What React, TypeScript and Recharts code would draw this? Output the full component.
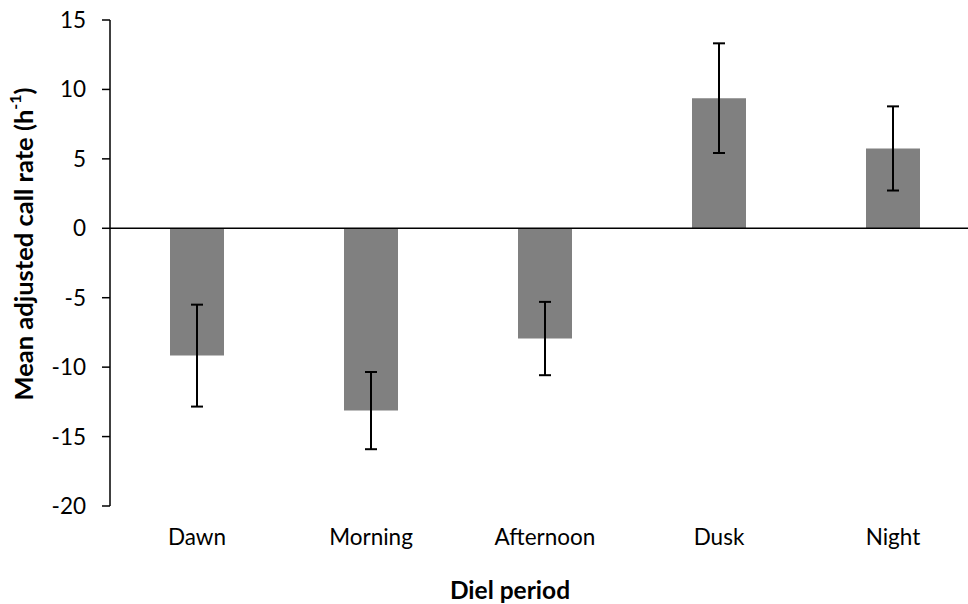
import React from 'react';
import { BarChart, Bar, XAxis, YAxis, ErrorBar, ReferenceLine, Label } from 'recharts';

const categories = ['Dawn', 'Morning', 'Afternoon', 'Dusk', 'Night'];
const means = [-9.17, -13.13, -7.94, 9.37, 5.75];
const errors = [3.67, 2.78, 2.64, 3.95, 3.03];
const yTicks = [-20, -15, -10, -5, 0, 5, 10, 15];

const data = categories.map((name, i) => ({ name, mean: means[i], err: errors[i] }));

const FONT = "Lato, 'Open Sans', sans-serif";

const YTitle = () => (
  <text
    x={23}
    y={244}
    transform="rotate(-90, 23, 244)"
    textAnchor="middle"
    dominantBaseline="central"
    fontFamily={FONT}
    fontWeight="bold"
    fontSize={25.5}
    fill="#000"
  >
    Mean adjusted call rate (h
    <tspan dy={-9} fontSize={16}>-1</tspan>
    <tspan dy={9}>)</tspan>
  </text>
);

const XTitle = () => (
  <text
    x={510}
    y={589}
    textAnchor="middle"
    dominantBaseline="central"
    fontFamily={FONT}
    fontWeight="bold"
    fontSize={24.5}
    fill="#000"
  >
    Diel period
  </text>
);

export default function App() {
  return (
    <div style={{ position: 'absolute', left: 0, top: 0, width: 968, height: 604, overflow: 'hidden', background: '#fff' }}>
      <BarChart width={980} height={604} data={data} margin={{ top: 20, right: 0, left: 0, bottom: 0 }}>
        <XAxis
          dataKey="name"
          axisLine={false}
          tickLine={false}
          tickSize={0}
          tickMargin={23}
          height={98}
          interval={0}
          tick={{ fill: '#000', fontSize: 22.5, fontFamily: FONT }}
        >
          <Label content={<XTitle />} />
        </XAxis>
        <YAxis
          width={110}
          domain={[-20, 15]}
          ticks={yTicks}
          interval={0}
          tickSize={8}
          tickMargin={16}
          axisLine={{ stroke: '#000', strokeWidth: 1.5 }}
          tickLine={{ stroke: '#000', strokeWidth: 1.5 }}
          tick={{ fill: '#000', fontSize: 22.5, fontFamily: FONT }}
        >
          <Label content={<YTitle />} />
        </YAxis>
        <Bar dataKey="mean" fill="#808080" barSize={54} isAnimationActive={false}>
          <ErrorBar dataKey="err" width={6} stroke="#000" strokeWidth={2} direction="y" />
        </Bar>
        <ReferenceLine y={0} stroke="#000" strokeWidth={1.5} />
      </BarChart>
    </div>
  );
}
